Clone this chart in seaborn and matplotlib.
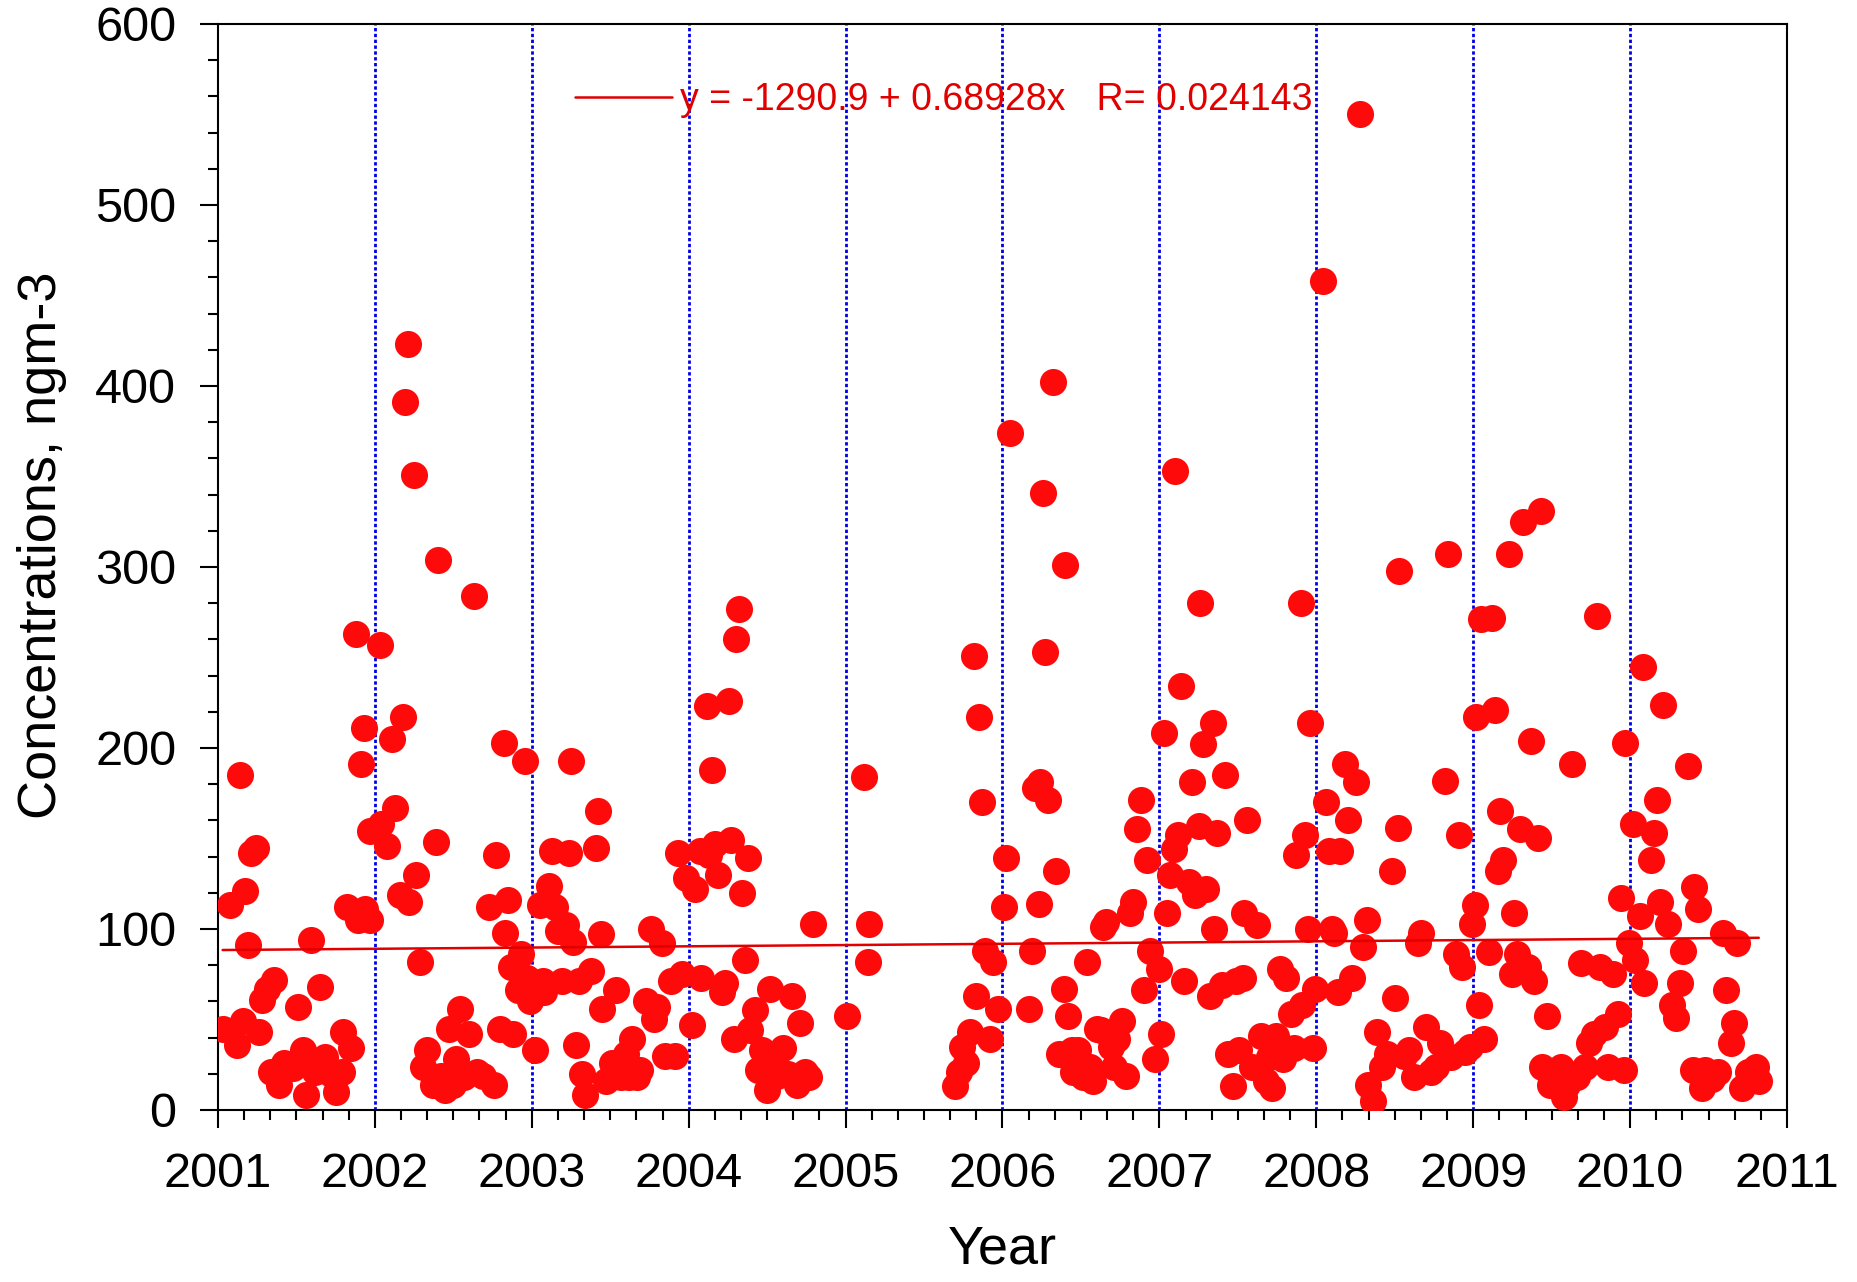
"""
plot.py
Concentrations (ng m-3) against sampling time, 2001-2010, with a
linear fit line and the fit equation in the legend.

Usage:
    python plot.py
"""

import matplotlib
matplotlib.use("Agg")
import matplotlib.pyplot as plt
from matplotlib.ticker import MultipleLocator
import numpy as np
import pandas as pd
import seaborn as sns

# fraction of the year and concentration for each sample, year by year
frac_2001 = [0.03, 0.08, 0.12, 0.14, 0.16, 0.17, 0.19, 0.21, 0.24, 0.26,
             0.28, 0.31, 0.34, 0.36, 0.39, 0.42, 0.48, 0.51, 0.54, 0.56,
             0.59, 0.62, 0.65, 0.68, 0.72, 0.75, 0.79, 0.80, 0.82, 0.85,
             0.88, 0.89, 0.91, 0.93, 0.94, 0.97, 0.97]
conc_2001 = [45, 113, 36, 185, 49, 121, 91, 142, 145, 43,
             61, 67, 21, 72, 14, 26, 23, 57, 33, 8,
             94, 21, 68, 29, 20, 10, 21, 43, 112, 34,
             263, 105, 191, 211, 111, 105, 154]

frac_2002 = [0.03, 0.04, 0.08, 0.11, 0.13, 0.16, 0.18, 0.19, 0.21, 0.22,
             0.25, 0.26, 0.29, 0.31, 0.33, 0.37, 0.39, 0.40, 0.42, 0.45,
             0.47, 0.50, 0.52, 0.54, 0.57, 0.60, 0.63, 0.65, 0.69, 0.73,
             0.76, 0.77, 0.80, 0.82, 0.83, 0.85, 0.87, 0.88, 0.91, 0.93,
             0.96, 0.97, 0.99]
conc_2002 = [257, 158, 146, 205, 167, 119, 217, 391, 423, 115,
             351, 130, 82, 24, 33, 14, 148, 304, 19, 11,
             45, 14, 28, 56, 18, 42, 284, 21, 19, 112,
             14, 141, 45, 203, 98, 116, 79, 42, 66, 86,
             193, 73, 60]

frac_2003 = [0.02, 0.05, 0.07, 0.08, 0.11, 0.13, 0.15, 0.17, 0.19, 0.22,
             0.24, 0.25, 0.26, 0.28, 0.30, 0.32, 0.34, 0.38, 0.41, 0.42,
             0.44, 0.45, 0.47, 0.51, 0.54, 0.57, 0.60, 0.62, 0.64, 0.67,
             0.69, 0.73, 0.76, 0.78, 0.80, 0.83, 0.85, 0.89, 0.91, 0.93,
             0.96, 0.98]
conc_2003 = [33, 113, 71, 65, 124, 143, 112, 99, 71, 102,
             142, 193, 93, 36, 71, 20, 8, 77, 145, 165,
             97, 56, 16, 26, 66, 18, 31, 18, 39, 18,
             22, 60, 100, 50, 57, 92, 30, 71, 30, 142,
             75, 128]

frac_2004 = [0.02, 0.04, 0.07, 0.08, 0.12, 0.13, 0.15, 0.17, 0.19, 0.21,
             0.23, 0.26, 0.27, 0.29, 0.30, 0.32, 0.34, 0.36, 0.38, 0.39,
             0.42, 0.44, 0.47, 0.50, 0.52, 0.53, 0.56, 0.60, 0.63, 0.66,
             0.69, 0.71, 0.74, 0.77, 0.79]
conc_2004 = [47, 122, 143, 73, 223, 141, 188, 147, 130, 65,
             70, 226, 149, 39, 260, 277, 120, 83, 139, 44,
             55, 22, 33, 11, 67, 28, 19, 34, 20, 63,
             14, 48, 21, 18, 103]

frac_2005 = [0.01, 0.12, 0.14, 0.15, 0.70, 0.72, 0.74, 0.77, 0.79, 0.82,
             0.83, 0.85, 0.87, 0.89, 0.92, 0.94, 0.97]
conc_2005 = [52, 184, 82, 103, 13, 21, 35, 26, 43, 251,
             63, 217, 170, 88, 39, 82, 56]

frac_2006 = [0.01, 0.02, 0.05, 0.17, 0.19, 0.21, 0.23, 0.24, 0.26, 0.27,
             0.29, 0.32, 0.34, 0.36, 0.39, 0.40, 0.42, 0.44, 0.45, 0.48,
             0.51, 0.54, 0.56, 0.58, 0.60, 0.63, 0.64, 0.66, 0.69, 0.71,
             0.73, 0.76, 0.79, 0.81, 0.83, 0.86, 0.88, 0.90, 0.92, 0.94,
             0.97]
conc_2006 = [112, 139, 374, 56, 88, 178, 114, 181, 341, 253,
             171, 402, 132, 31, 67, 301, 52, 33, 21, 33,
             18, 82, 24, 16, 45, 44, 101, 104, 35, 24,
             39, 49, 19, 109, 115, 155, 171, 66, 138, 88,
             28]

frac_2007 = [0.00, 0.01, 0.03, 0.05, 0.07, 0.09, 0.10, 0.12, 0.14, 0.16,
             0.19, 0.21, 0.23, 0.25, 0.26, 0.28, 0.30, 0.32, 0.34, 0.35,
             0.37, 0.40, 0.42, 0.44, 0.47, 0.49, 0.51, 0.53, 0.54, 0.56,
             0.59, 0.62, 0.65, 0.68, 0.70, 0.72, 0.74, 0.77, 0.79, 0.81,
             0.84, 0.86, 0.87, 0.90, 0.91, 0.93, 0.95, 0.96, 0.98, 0.99]
conc_2007 = [78, 42, 208, 109, 130, 144, 353, 152, 234, 71,
             126, 181, 119, 157, 280, 202, 122, 63, 214, 100,
             153, 69, 185, 31, 13, 71, 33, 73, 109, 160,
             24, 102, 41, 16, 29, 12, 41, 78, 28, 73,
             53, 34, 141, 280, 58, 152, 100, 214, 34, 67]

frac_2008 = [0.04, 0.06, 0.08, 0.10, 0.11, 0.14, 0.15, 0.18, 0.20, 0.23,
             0.25, 0.28, 0.30, 0.32, 0.33, 0.36, 0.39, 0.42, 0.45, 0.48,
             0.50, 0.52, 0.53, 0.56, 0.59, 0.62, 0.65, 0.67, 0.70, 0.73,
             0.76, 0.79, 0.82, 0.84, 0.86, 0.89, 0.91, 0.93, 0.95, 0.98,
             0.99]
conc_2008 = [458, 170, 143, 100, 98, 65, 143, 191, 160, 73,
             181, 550, 90, 105, 14, 5, 43, 24, 31, 132,
             62, 156, 298, 30, 33, 18, 92, 98, 46, 21,
             24, 37, 182, 307, 29, 86, 152, 79, 32, 35,
             103]

frac_2009 = [0.01, 0.02, 0.04, 0.05, 0.07, 0.10, 0.12, 0.14, 0.16, 0.17,
             0.19, 0.23, 0.25, 0.26, 0.28, 0.30, 0.32, 0.35, 0.37, 0.39,
             0.41, 0.43, 0.44, 0.47, 0.49, 0.53, 0.56, 0.58, 0.60, 0.63,
             0.66, 0.69, 0.71, 0.74, 0.77, 0.79, 0.81, 0.84, 0.86, 0.89,
             0.92, 0.94, 0.96, 0.97, 0.99]
conc_2009 = [113, 217, 58, 271, 39, 87, 272, 221, 132, 165,
             138, 307, 75, 109, 86, 155, 325, 79, 204, 71,
             150, 331, 24, 52, 14, 18, 24, 7, 14, 191,
             18, 81, 24, 37, 42, 273, 79, 46, 24, 75,
             53, 117, 22, 203, 92]

frac_2010 = [0.02, 0.03, 0.06, 0.08, 0.09, 0.13, 0.15, 0.17, 0.19, 0.21,
             0.24, 0.27, 0.29, 0.32, 0.34, 0.37, 0.40, 0.41, 0.43, 0.46,
             0.48, 0.52, 0.56, 0.59, 0.61, 0.64, 0.66, 0.68, 0.71, 0.75,
             0.80, 0.82]
conc_2010 = [158, 83, 107, 245, 70, 138, 153, 171, 115, 224,
             103, 58, 51, 70, 88, 190, 22, 123, 111, 12,
             22, 17, 21, 98, 66, 37, 48, 92, 12, 21,
             24, 16]

years = [2001, 2002, 2003, 2004, 2005, 2006, 2007, 2008, 2009, 2010]

# linear fit reported on the chart
INTERCEPT = -1290.9
SLOPE = 0.68928
R_VALUE = 0.024143

RED = "#FF0A0A"
FIT_RED = "#E00000"


def build_frame():
    fracs = [frac_2001, frac_2002, frac_2003, frac_2004, frac_2005,
             frac_2006, frac_2007, frac_2008, frac_2009, frac_2010]
    concs = [conc_2001, conc_2002, conc_2003, conc_2004, conc_2005,
             conc_2006, conc_2007, conc_2008, conc_2009, conc_2010]
    parts = []
    for yr, f, c in zip(years, fracs, concs):
        parts.append(pd.DataFrame({"year": yr + np.array(f), "conc": c}))
    return pd.concat(parts, ignore_index=True)


def main():
    df = build_frame()

    sns.set_style("white")
    plt.rcParams["font.family"] = ["Liberation Sans", "DejaVu Sans"]
    plt.rcParams["text.color"] = "black"
    plt.rcParams["axes.labelcolor"] = "black"
    plt.rcParams["xtick.color"] = "black"
    plt.rcParams["ytick.color"] = "black"

    fig = plt.figure(figsize=(18.58, 12.82), dpi=100)
    ax = fig.add_axes([0.1173, 0.1342, 0.8445, 0.8471])

    # dotted year lines
    for yr in range(2002, 2011):
        ax.axvline(yr, color="#0000E6", linestyle=(0, (1.2, 0.9)), lw=2.0, zorder=1)

    sns.scatterplot(data=df, x="year", y="conc", color=RED, s=380,
                    linewidth=0, ax=ax, zorder=3, legend=False)

    x_fit = np.linspace(df["year"].min(), df["year"].max(), 50)
    y_fit = INTERCEPT + SLOPE * x_fit
    label = f"y = {INTERCEPT} + {SLOPE}x   R= {R_VALUE}"
    sns.lineplot(x=x_fit, y=y_fit, color=FIT_RED, lw=1.8, ax=ax, zorder=4, label=label)

    ax.set_xlim(2001, 2011)
    ax.set_ylim(0, 600)
    ax.xaxis.set_major_locator(MultipleLocator(1))
    ax.xaxis.set_minor_locator(MultipleLocator(1 / 6))
    ax.yaxis.set_major_locator(MultipleLocator(100))
    ax.yaxis.set_minor_locator(MultipleLocator(20))
    ax.set_xticklabels([f"{int(t)}" for t in ax.get_xticks()])

    ax.tick_params(which="both", direction="out", bottom=True, left=True,
                   top=False, right=False, width=1.5, color="black")
    ax.tick_params(which="major", length=13, labelsize=35, pad=17)
    ax.tick_params(which="minor", length=7)
    for side in ["left", "right", "top", "bottom"]:
        ax.spines[side].set_visible(True)
        ax.spines[side].set_color("black")
        ax.spines[side].set_linewidth(1.5)

    ax.set_xlabel("Year", fontsize=39, labelpad=20)
    ax.set_ylabel("Concentrations, ngm-3", fontsize=39, labelpad=20)
    ax.yaxis.label.set_y(0.52)

    ax.legend(loc="center left", bbox_to_anchor=(0.2275, 0.930), frameon=False,
              fontsize=27, labelcolor=FIT_RED, handlelength=2.6, handletextpad=0.2,
              borderpad=0, borderaxespad=0)

    fig.savefig("out.png", dpi=100)
    print("Saved figure to out.png")


if __name__ == "__main__":
    main()
